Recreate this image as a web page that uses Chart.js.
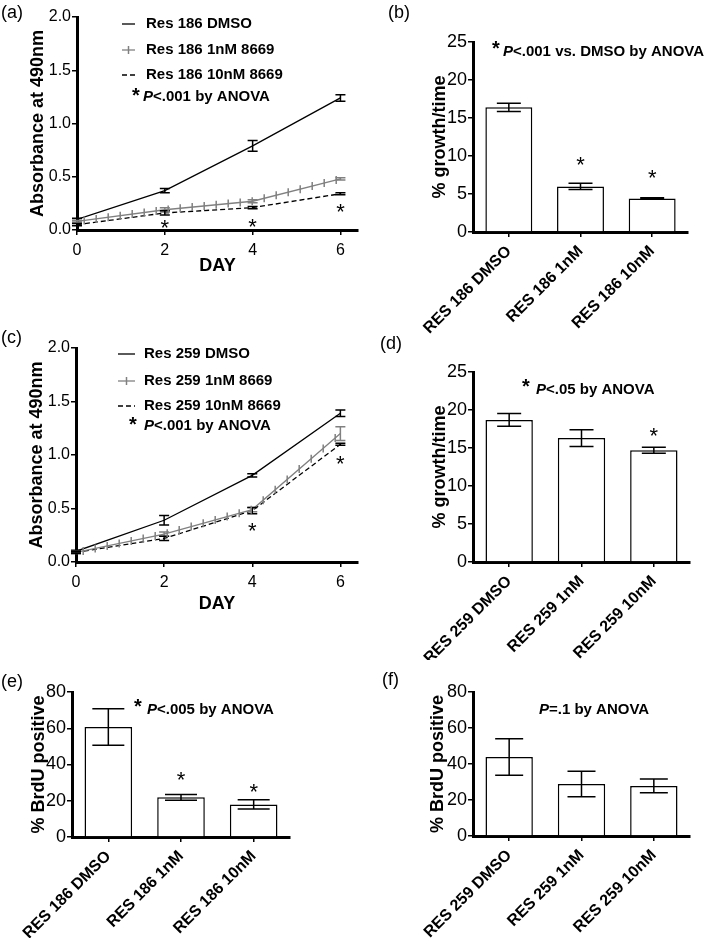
<!DOCTYPE html>
<html>
<head>
<meta charset="utf-8">
<script src="https://cdn.jsdelivr.net/npm/chart.js@4.4.1/dist/chart.umd.min.js"></script>
<style>
  body { margin:0; background:#fff; }
  #fig { position:relative; width:717px; height:938px; background:#fff; overflow:hidden; }
  canvas { position:absolute; }
</style>
</head>
<body>
<div id="fig">
  <canvas id="pa" width="360" height="280" style="left:0;top:0"></canvas>
  <canvas id="pb" width="357" height="340" style="left:360px;top:0"></canvas>
  <canvas id="pc" width="360" height="300" style="left:0;top:320px"></canvas>
  <canvas id="pd" width="357" height="340" style="left:360px;top:320px"></canvas>
  <canvas id="pe" width="360" height="318" style="left:0;top:620px"></canvas>
  <canvas id="pf" width="357" height="318" style="left:360px;top:620px"></canvas>
</div>
<script>
// days of the absorbance assay
const days = [0, 2, 4, 6];

// (a) Res 186 absorbance
const a186Dmso = [0.10, 0.37, 0.79, 1.24];
const a186DmsoErr = [0.01, 0.02, 0.05, 0.03];
const a186One = [0.08, 0.19, 0.27, 0.48];
const a186OneErr = [0.01, 0.02, 0.015, 0.01];
const a186Ten = [0.05, 0.16, 0.21, 0.34];
const a186TenErr = [0.01, 0.02, 0.01, 0.01];
const a186StarDays = [2, 4, 6];
const a186StarVals = [0.07, 0.085, 0.225];

// (c) Res 259 absorbance
const c259Dmso = [0.10, 0.39, 0.81, 1.39];
const c259DmsoErr = [0.01, 0.045, 0.015, 0.03];
const c259One = [0.09, 0.26, 0.49, 1.20];
const c259OneErr = [0.01, 0.02, 0.02, 0.065];
const c259Ten = [0.09, 0.22, 0.48, 1.10];
const c259TenErr = [0.01, 0.02, 0.03, 0.01];
const c259StarDays = [4, 6];
const c259StarVals = [0.34, 0.97];

// (b) growth rate, Res 186
const b186Labels = ['RES 186 DMSO', 'RES 186 1nM', 'RES 186 10nM'];
const b186Growth = [16.4, 6.0, 4.4];
const b186GrowthErr = [0.55, 0.4, 0.1];
const b186StarIdx = [1, 2];
const b186StarVals = [9.6, 7.9];

// (d) growth rate, Res 259
const d259Labels = ['RES 259 DMSO', 'RES 259 1nM', 'RES 259 10nM'];
const d259Growth = [18.7, 16.3, 14.7];
const d259GrowthErr = [0.85, 1.1, 0.4];
const d259StarIdx = [2];
const d259StarVals = [17.4];

// (e) BrdU, Res 186
const e186Brdu = [60.7, 21.9, 18.0];
const e186BrduErr = [10.1, 1.6, 2.6];
const e186StarIdx = [1, 2];
const e186StarVals = [34.6, 28.1];

// (f) BrdU, Res 259
const f259Brdu = [43.9, 28.9, 27.8];
const f259BrduErr = [10.1, 7.1, 3.8];

const FONT = "'Liberation Sans', Arial, Helvetica, sans-serif";
Chart.defaults.font.family = FONT;
Chart.defaults.color = '#000';
Chart.defaults.animation = false;
Chart.defaults.plugins.legend.display = false;
Chart.defaults.plugins.tooltip.enabled = false;

const GRAY = '#808080';

// vertical error bars with caps
const errorBars = {
  id: 'errorBars',
  afterDatasetsDraw(chart) {
    const ctx = chart.ctx, ys = chart.scales.y;
    chart.data.datasets.forEach((ds, i) => {
      if (!ds.err) return;
      const meta = chart.getDatasetMeta(i);
      const cap = ds.capHalf || 5;
      ctx.save();
      ctx.strokeStyle = ds.errColor || ds.borderColor;
      ctx.lineWidth = ds.errWidth || 1.5;
      ctx.setLineDash([]);
      meta.data.forEach((el, j) => {
        const v = typeof ds.data[j] === 'object' ? ds.data[j].y : ds.data[j];
        const x = el.x;
        const yt = ys.getPixelForValue(v + ds.err[j]);
        const yb = ys.getPixelForValue(v - ds.err[j]);
        ctx.beginPath();
        ctx.moveTo(x, yt); ctx.lineTo(x, yb);
        ctx.moveTo(x - cap, yt); ctx.lineTo(x + cap, yt);
        ctx.moveTo(x - cap, yb); ctx.lineTo(x + cap, yb);
        ctx.stroke();
      });
      ctx.restore();
    });
  }
};

// little vertical ticks along the 1nM line
const tickedLine = {
  id: 'tickedLine',
  afterDatasetsDraw(chart) {
    const ctx = chart.ctx;
    chart.data.datasets.forEach((ds, i) => {
      if (!ds.tickEvery) return;
      const pts = chart.getDatasetMeta(i).data;
      ctx.save();
      ctx.strokeStyle = ds.borderColor;
      ctx.lineWidth = 1.5;
      let carry = ds.tickEvery * 0.6;
      for (let k = 1; k < pts.length; k++) {
        const x0 = pts[k-1].x, y0 = pts[k-1].y, x1 = pts[k].x, y1 = pts[k].y;
        const len = x1 - x0;
        let s = carry;
        while (s < len) {
          const t = s / len;
          const x = x0 + t * (x1 - x0), y = y0 + t * (y1 - y0);
          ctx.beginPath(); ctx.moveTo(x, y - 4); ctx.lineTo(x, y + 4); ctx.stroke();
          s += ds.tickEvery;
        }
        carry = s - len;
      }
      ctx.restore();
    });
  }
};

function drawParts(ctx, x, y, size, parts) {
  ctx.textBaseline = 'middle';
  ctx.textAlign = 'left';
  parts.forEach(([str, style]) => {
    ctx.font = style + ' ' + size + 'px ' + FONT;
    ctx.fillText(str, x, y);
    x += ctx.measureText(str).width;
  });
}

function drawStar(ctx, x, cy, size, weight) {
  ctx.font = weight + ' ' + size + 'px ' + FONT;
  ctx.textAlign = 'center';
  ctx.textBaseline = 'alphabetic';
  ctx.fillText('*', x, cy + 0.58 * size);
}

// panel letters, legends, notes, significance stars
const notes = {
  id: 'notes',
  afterDraw(chart, args, o) {
    const ctx = chart.ctx;
    ctx.save();
    ctx.fillStyle = '#000';
    if (o.letter) drawParts(ctx, o.letter[0], o.letter[1], 18, [[o.letter[2], 'normal']]);
    (o.legend || []).forEach(r => {
      ctx.save();
      ctx.strokeStyle = r.color; ctx.lineWidth = 1.3;
      ctx.setLineDash(r.dash || []);
      ctx.beginPath(); ctx.moveTo(o.lx0, r.y); ctx.lineTo(o.lx1, r.y); ctx.stroke();
      if (r.ticked) {
        ctx.setLineDash([]); ctx.lineWidth = 1.5;
        const m = (o.lx0 + o.lx1) / 2;
        ctx.beginPath(); ctx.moveTo(m, r.y - 4); ctx.lineTo(m, r.y + 4); ctx.stroke();
      }
      ctx.restore();
      drawParts(ctx, o.ltx, r.y, 15, [[r.text, 'bold']]);
    });
    (o.texts || []).forEach(t => {
      if (t.star) drawStar(ctx, t.star[0], t.star[1], 20, 'bold');
      drawParts(ctx, t.x, t.y, 15, t.parts);
    });
    if (o.stars) {
      const xs = chart.scales.x, ys = chart.scales.y;
      o.stars.at.forEach((xv, k) => {
        drawStar(ctx, xs.getPixelForValue(xv), ys.getPixelForValue(o.stars.vals[k]), 22, 'normal');
      });
    }
    ctx.restore();
  }
};

const axisGrid = len => ({ drawOnChartArea:false, drawTicks:true, tickLength:len, color:'#000', lineWidth:1.5, offset:false });
const axisBorder = { display:true, color:'#000', width:3 };

function yAxis(max, step, width, title, titlePad, tickSize, fmt) {
  return {
    min:0, max:max,
    ticks:{ stepSize:step, font:{size:tickSize}, color:'#000', padding:1, callback: fmt || (v => v) },
    grid: axisGrid(5),
    border: axisBorder,
    title:{ display:true, text:title, color:'#000', font:{size:18, weight:'bold'}, padding:{top:titlePad, bottom:0} },
    afterFit(s) { s.width = width; }
  };
}

function lineChart(id, series, opt) {
  const mk = (data, err, color, dash, tick) => ({
    data: days.map((d, i) => ({x:d, y:data[i]})),
    err: err, borderColor: color, borderWidth: 1.3, borderDash: dash,
    pointRadius: 0, tension: 0, fill: false, capHalf: 5, tickEvery: tick
  });
  new Chart(document.getElementById(id), {
    type: 'line',
    data: { datasets: [
      mk(series[0], series[1], '#000', [], 0),
      mk(series[2], series[3], GRAY, [], 12),
      mk(series[4], series[5], '#000', [5, 3], 0)
    ]},
    options: {
      responsive:false,
      layout:{ padding:{ top:opt.top, right:2, left:0, bottom:0 } },
      scales: {
        x: {
          type:'linear', min:0, max:6.4,
          ticks:{ stepSize:2, includeBounds:false, font:{size:16}, color:'#000', padding:6 },
          afterBuildTicks(s) { s.ticks = s.ticks.filter(t => t.value <= 6); },
          grid: axisGrid(5),
          border: axisBorder,
          title:{ display:true, text:'DAY', color:'#000', font:{size:18, weight:'bold'}, padding:{top:0, bottom:opt.dayPad} },
          afterFit(s) { s.height = opt.xh; }
        },
        y: yAxis(2, 0.5, opt.yw, 'Absorbance at 490nm', opt.ytp, 16, v => v.toFixed(1))
      },
      plugins: { notes: opt.notes }
    },
    plugins: [errorBars, tickedLine, notes]
  });
}

function barChart(id, labels, vals, err, opt) {
  new Chart(document.getElementById(id), {
    type: 'bar',
    data: { labels: labels, datasets: [{
      data: vals, err: err, backgroundColor:'#fff', borderColor:'#000', borderWidth:1.5,
      barPercentage:0.655, categoryPercentage:1, capHalf: opt.cap, errWidth: 1.5
    }]},
    options: {
      responsive:false,
      layout:{ padding:{ top:opt.top, right:opt.right, left:0, bottom:0 } },
      scales: {
        x: {
          ticks:{ font:{size:16, weight:'bold'}, color:'#000', maxRotation:45, minRotation:45, padding:5, autoSkip:false },
          grid: axisGrid(5),
          border: axisBorder,
          afterFit(s) { s.height = opt.xh; }
        },
        y: yAxis(opt.max, opt.step, opt.yw, opt.title, opt.ytp, 18)
      },
      plugins: { notes: opt.notes }
    },
    plugins: [errorBars, notes]
  });
}

const resLabels186 = ['RES 186 DMSO', 'RES 186 1nM', 'RES 186 10nM'];
const resLabels259 = ['RES 259 DMSO', 'RES 259 1nM', 'RES 259 10nM'];

lineChart('pa', [a186Dmso, a186DmsoErr, a186One, a186OneErr, a186Ten, a186TenErr], {
  top:17, xh:50, yw:77, ytp:27.7, dayPad:3,
  notes: {
    letter:[1, 13, '(a)'],
    lx0:122, lx1:135, ltx:146,
    legend:[
      {y:24, color:'#000', text:'Res 186 DMSO'},
      {y:50, color:GRAY, ticked:true, text:'Res 186 1nM 8669'},
      {y:75, color:'#000', dash:[5, 3], text:'Res 186 10nM 8669'}
    ],
    texts:[{star:[136, 90], x:143, y:97, parts:[['P', 'italic bold'], ['<.001 by ANOVA', 'bold']]}],
    stars:{at:a186StarDays, vals:a186StarVals}
  }
});

barChart('pb', b186Labels, b186Growth, b186GrowthErr, {
  top:42, right:29, xh:108, yw:113, ytp:69.2, max:25, step:5, cap:12, title:'% growth/time',
  notes: {
    letter:[28, 13, '(b)'],
    texts:[{star:[136, 43], x:143, y:52, parts:[['P', 'italic bold'], ['<.001 vs. DMSO by ANOVA', 'bold']]}],
    stars:{at:b186StarIdx, vals:b186StarVals}
  }
});

lineChart('pc', [c259Dmso, c259DmsoErr, c259One, c259OneErr, c259Ten, c259TenErr], {
  top:28, xh:58, yw:76, ytp:26.7, dayPad:5,
  notes: {
    letter:[1, 18, '(c)'],
    lx0:118, lx1:135, ltx:144,
    legend:[
      {y:34, color:'#000', text:'Res 259 DMSO'},
      {y:61, color:GRAY, ticked:true, text:'Res 259 1nM 8669'},
      {y:86, color:'#000', dash:[5, 3], text:'Res 259 10nM 8669'}
    ],
    texts:[{star:[133, 99], x:144, y:106, parts:[['P', 'italic bold'], ['<.001 by ANOVA', 'bold']]}],
    stars:{at:c259StarDays, vals:c259StarVals}
  }
});

barChart('pd', d259Labels, d259Growth, d259GrowthErr, {
  top:52, right:27, xh:98, yw:113, ytp:69.2, max:25, step:5, cap:12, title:'% growth/time',
  notes: {
    letter:[20, 24, '(d)'],
    texts:[{star:[166, 61], x:176, y:69.5, parts:[['P', 'italic bold'], ['<.05 by ANOVA', 'bold']]}],
    stars:{at:d259StarIdx, vals:d259StarVals}
  }
});

barChart('pe', resLabels186, e186Brdu, e186BrduErr, {
  top:72, right:70, xh:101, yw:72, ytp:28.7, max:80, step:20, cap:16, title:'% BrdU positive',
  notes: {
    letter:[1, 62, '(e)'],
    texts:[{star:[138, 81.5], x:147, y:90, parts:[['P', 'italic bold'], ['<.005 by ANOVA', 'bold']]}],
    stars:{at:e186StarIdx, vals:e186StarVals}
  }
});

barChart('pf', resLabels259, f259Brdu, f259BrduErr, {
  top:72, right:27, xh:102, yw:113, ytp:67.7, max:80, step:20, cap:14, title:'% BrdU positive',
  notes: {
    letter:[22, 60, '(f)'],
    texts:[{x:179, y:90, parts:[['P', 'italic bold'], ['=.1 by ANOVA', 'bold']]}]
  }
});
</script>
</body>
</html>
